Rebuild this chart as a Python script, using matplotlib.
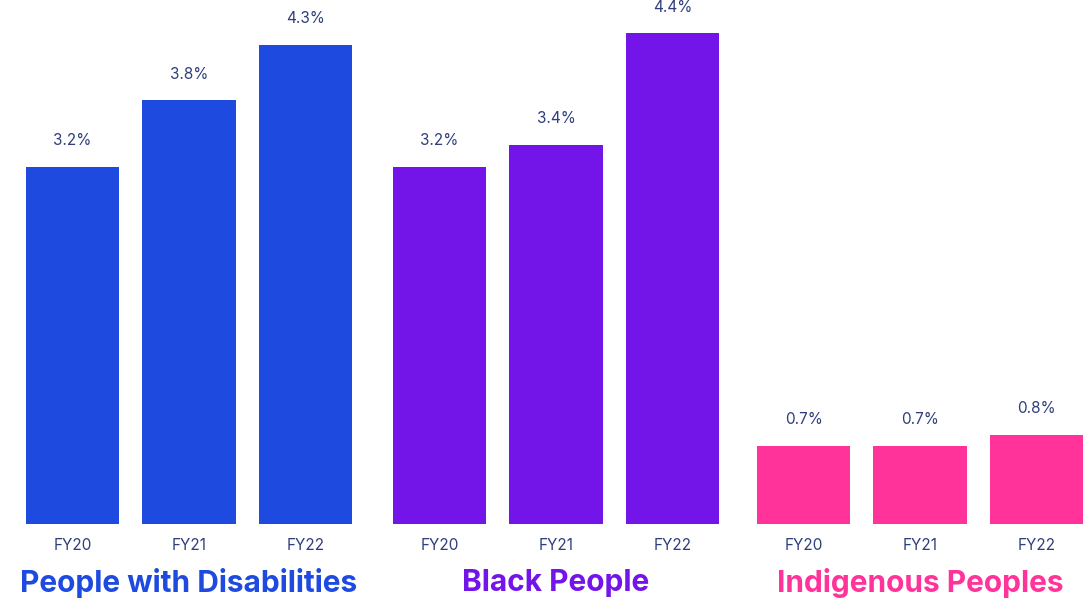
import matplotlib
matplotlib.use("Agg")
import matplotlib.pyplot as plt

plt.rcParams['font.family'] = ['Inter', 'DejaVu Sans']

years = ["FY20", "FY21", "FY22"]
groups = ["People with Disabilities", "Black People", "Indigenous Peoples"]
disabilities = [3.2, 3.8, 4.3]
black = [3.2, 3.4, 4.4]
indigenous = [0.7, 0.7, 0.8]
values = [disabilities, black, indigenous]
colors = ["#1E4AE0", "#7314E8", "#FF3399"]
text_color = "#2E3F7C"

W, H = 1090, 601
fig = plt.figure(figsize=(W / 100, H / 100), dpi=100)

lefts = [26, 393, 757]
gw = 326
bottom_px = 524
ymax = 4.70

for left, vals, col, name in zip(lefts, values, colors, groups):
    ax = fig.add_axes([left / W, (H - bottom_px) / H, gw / W, bottom_px / H])
    x = list(range(len(years)))
    bars = ax.bar(x, vals, width=0.8, color=col)
    ax.set_xlim(-0.4, 2.4)
    ax.set_ylim(0, ymax)
    for b, v in zip(bars, vals):
        ax.annotate(f"{v}%", (b.get_x() + b.get_width() / 2, v),
                    xytext=(0, 13.5), textcoords="offset points",
                    ha="center", va="bottom", fontsize=11, color=text_color)
    ax.set_xticks(x)
    ax.set_xticklabels(years, fontsize=11, color=text_color)
    ax.tick_params(axis="x", length=0, pad=10)
    ax.set_yticks([])
    for s in ax.spines.values():
        s.set_visible(False)
    ax.patch.set_alpha(0)
    fig.text((left + gw / 2) / W, 1 - 583 / H, name, ha="center", va="center",
             fontsize=21.5, fontweight="bold", color=col)

fig.savefig("out.png", dpi=100)
